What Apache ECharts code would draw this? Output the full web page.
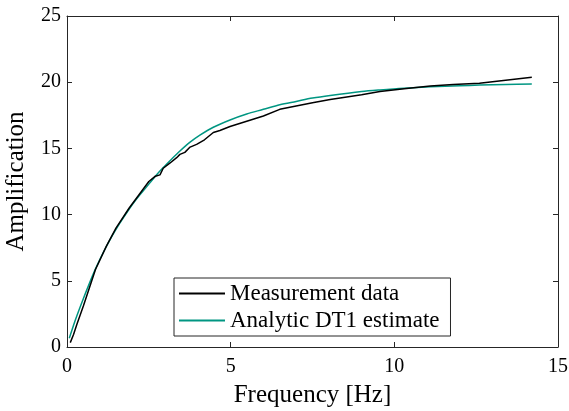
<!DOCTYPE html>
<html>
<head>
<meta charset="utf-8">
<script src="https://cdn.jsdelivr.net/npm/echarts@6/dist/echarts.min.js"></script>
<style>
  html, body { margin: 0; padding: 0; background: #fff; }
  #chart { width: 569px; height: 411px; }
</style>
</head>
<body>
<div id="chart"></div>
<script>
const measFreq = [0.1, 0.2, 0.3, 0.5, 0.87, 1.2, 1.5, 1.9, 2.2, 2.5, 2.7, 2.84, 2.94, 3.15, 3.35, 3.45, 3.6,
  3.76, 3.96, 4.2, 4.47, 4.67, 4.98, 5.49, 6.0, 6.5, 7.0, 7.5, 8.04, 9.0, 9.56, 10.3, 11.1, 11.8, 12.6, 13.4, 14.2];
const measAmp = [0.33, 0.95, 1.7, 3.1, 5.85, 7.6, 9.0, 10.5, 11.5, 12.5, 12.9, 13.0, 13.5, 13.9, 14.3, 14.55, 14.7,
  15.1, 15.3, 15.65, 16.2, 16.35, 16.65, 17.05, 17.45, 17.95, 18.2, 18.45, 18.7, 19.05, 19.3, 19.5, 19.72, 19.82, 19.92, 20.15, 20.37];

// analytic DT1 estimate
const fitFreq = [0.07, 0.25, 0.46, 0.7, 0.87, 1.1, 1.37, 1.6, 1.88, 2.1, 2.4, 2.7, 2.94, 3.2, 3.45, 3.75,
  4.06, 4.47, 4.98, 5.49, 6.0, 6.5, 7.0, 7.5, 8.04, 9.0, 9.56, 10.3, 11.1, 12.0, 12.6, 13.4, 14.2];
const fitAmp = [0.66, 2.0, 3.4, 4.9, 5.9, 7.1, 8.35, 9.3, 10.35, 11.1, 12.0, 12.9, 13.55, 14.2, 14.8, 15.45,
  16.0, 16.6, 17.15, 17.6, 17.95, 18.3, 18.55, 18.8, 19.0, 19.3, 19.42, 19.55, 19.65, 19.73, 19.78, 19.83, 19.87];

const xTicks = [0, 5, 10, 15];
const yTicks = [0, 5, 10, 15, 20, 25];

const seriesNames = ['Measurement data', 'Analytic DT1 estimate'];

const font = '"Liberation Serif", "DejaVu Serif", serif';
const axisColor = '#262626';

const pairs = (xs, ys) => xs.map((x, i) => [x, ys[i]]);

const chart = echarts.init(document.getElementById('chart'), null, { renderer: 'canvas' });

const axisBase = {
  type: 'value',
  axisLine: { show: true, onZero: false, lineStyle: { color: axisColor, width: 1 } },
  axisTick: { show: true, inside: true, length: 5, lineStyle: { color: axisColor } },
  splitLine: { show: false },
};

chart.setOption({
  animation: false,
  backgroundColor: '#fff',
  textStyle: { fontFamily: font },
  grid: { left: 67, right: 11, top: 16, bottom: 64, containLabel: false, outerBoundsMode: 'none' },
  xAxis: [
    Object.assign({}, axisBase, {
      position: 'bottom',
      min: xTicks[0], max: xTicks[xTicks.length - 1], interval: 5,
      name: 'Frequency [Hz]',
      nameLocation: 'middle',
      nameGap: 36,
      nameTextStyle: { fontFamily: font, fontSize: 25, color: '#000' },
      axisLabel: { fontFamily: font, fontSize: 20, color: '#000', margin: 10 },
    }),
    Object.assign({}, axisBase, {
      position: 'top',
      min: xTicks[0], max: xTicks[xTicks.length - 1], interval: 5,
      axisLabel: { show: false },
    }),
  ],
  yAxis: [
    Object.assign({}, axisBase, {
      position: 'left',
      min: yTicks[0], max: yTicks[yTicks.length - 1], interval: 5,
      name: 'Amplification',
      nameLocation: 'middle',
      nameGap: 38,
      nameRotate: 90,
      nameTextStyle: { fontFamily: font, fontSize: 25, color: '#000' },
      axisLabel: { fontFamily: font, fontSize: 20, color: '#000', margin: 6 },
    }),
    Object.assign({}, axisBase, {
      position: 'right',
      min: yTicks[0], max: yTicks[yTicks.length - 1], interval: 5,
      axisLabel: { show: false },
    }),
  ],
  legend: {
    orient: 'vertical',
    left: 174,
    top: 278,
    padding: [4, 11, 4, 5],
    icon: 'rect',
    itemWidth: 46,
    itemHeight: 2,
    itemGap: 4,
    borderColor: axisColor,
    borderWidth: 1,
    borderRadius: 0,
    backgroundColor: '#fff',
    textStyle: { fontFamily: font, fontSize: 23, color: '#000' },
    data: seriesNames,
  },
  series: [
    {
      name: seriesNames[0],
      type: 'line',
      data: pairs(measFreq, measAmp),
      symbol: 'none',
      smooth: false,
      lineStyle: { color: '#000', width: 1.5 },
      itemStyle: { color: '#000' },
      z: 3,
    },
    {
      name: seriesNames[1],
      type: 'line',
      data: pairs(fitFreq, fitAmp),
      symbol: 'none',
      smooth: 0.3,
      lineStyle: { color: '#009682', width: 1.5 },
      itemStyle: { color: '#009682' },
      z: 2,
    },
  ],
});
</script>
</body>
</html>
